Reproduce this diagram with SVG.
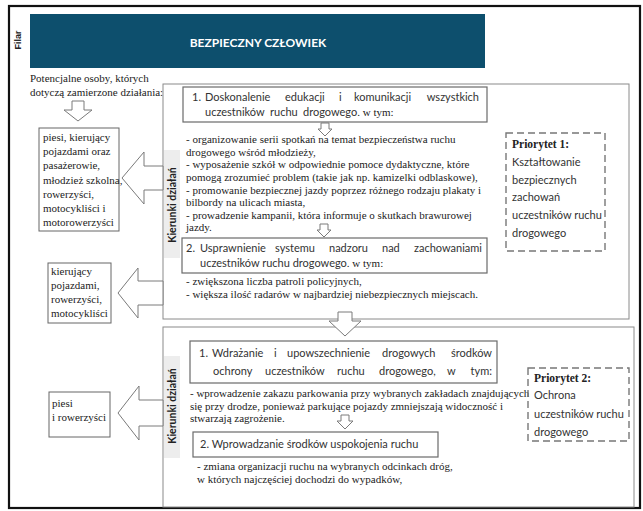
<svg xmlns="http://www.w3.org/2000/svg" width="643" height="511" viewBox="0 0 643 511">
  <style>
    .serif { font-family: "Liberation Serif", "Times New Roman", serif; font-size: 11px; fill: #222; }
    .sans { font-family: Lato, "Open Sans", sans-serif; font-size: 11px; fill: #333; }
    .prio { font-family: Lato, "Open Sans", sans-serif; font-size: 11px; fill: #333; }
    .prioTitle { font-family: "Liberation Serif", serif; font-size: 11.5px; font-weight: bold; fill: #222; }
    .vert { font-family: Lato, "Open Sans", sans-serif; font-size: 10.5px; font-weight: bold; fill: #222; }
    .box { fill: #fff; stroke: #666; stroke-width: 1; }
    .section { fill: #fff; stroke: #8a8a8a; stroke-width: 1; }
    .sub { fill: #fff; stroke: #6a6a6a; stroke-width: 1.2; }
    .dash { fill: none; stroke: #777; stroke-width: 1.4; stroke-dasharray: 7 4; }
    .arrow { fill: #fff; stroke: #7a7a7a; stroke-width: 1; }
    .strip { fill: #ededed; }
  </style>

  <!-- outer frame -->
  <rect x="9" y="6" width="631" height="502" fill="#fff" stroke="#111" stroke-width="2.2"/>

  <!-- pillar label and banner -->
  <g id="pillar">
    <text transform="translate(21,40) rotate(-90)" text-anchor="middle" style="font-family:'Liberation Sans',sans-serif;font-size:9px;font-weight:bold;fill:#222">Filar</text>
    <rect x="30" y="14" width="455" height="54" fill="#0d4f6d"/>
    <text x="258" y="47" text-anchor="middle" style="font-family:Lato,'Open Sans',sans-serif;font-size:12px;font-weight:bold;fill:#fff">BEZPIECZNY CZŁOWIEK</text>
  </g>

  <!-- intro label -->
  <g id="intro">
    <text class="serif" x="30" y="82">Potencjalne osoby, których</text>
    <text class="serif" x="30" y="96">dotyczą zamierzone działania:</text>
  </g>

  <!-- target groups -->
  <g id="groupA">
    <rect class="box" x="39" y="128" width="80" height="103"/>
    <text class="serif" x="43" y="141">piesi, kierujący</text>
    <text class="serif" x="43" y="155">pojazdami oraz</text>
    <text class="serif" x="43" y="169">pasażerowie,</text>
    <text class="serif" x="43" y="184">młodzież szkolna,</text>
    <text class="serif" x="43" y="198">rowerzyści,</text>
    <text class="serif" x="43" y="212">motocykliści i</text>
    <text class="serif" x="43" y="226">motorowerzyści</text>
  </g>
  <g id="groupB">
    <rect class="box" x="48" y="263" width="63" height="60"/>
    <text class="serif" x="51" y="275">kierujący</text>
    <text class="serif" x="51" y="289">pojazdami,</text>
    <text class="serif" x="51" y="303">rowerzyści,</text>
    <text class="serif" x="51" y="317">motocykliści</text>
  </g>
  <g id="groupC">
    <rect class="box" x="49" y="392" width="61" height="45"/>
    <text class="serif" x="52" y="407">piesi</text>
    <text class="serif" x="52" y="421">i rowerzyści</text>
  </g>

  <!-- section 1 -->
  <g id="section1">
    <rect class="section" x="163" y="84" width="466" height="235"/>
    <rect class="strip" x="164" y="150" width="16" height="108"/>
    <text class="vert" transform="translate(176,205) rotate(-90)" text-anchor="middle">Kierunki działań</text>

    <rect class="sub" x="183" y="87" width="304" height="35"/>
    <text class="sans" y="101"><tspan x="192">1.</tspan><tspan x="205">Doskonalenie</tspan><tspan x="285">edukacji</tspan><tspan x="339">i</tspan><tspan x="354">komunikacji</tspan></text>
    <text class="sans" x="479" y="101" text-anchor="end">wszystkich</text>
    <text class="sans" y="116"><tspan x="205">uczestników</tspan><tspan x="270">ruchu</tspan><tspan x="303">drogowego</tspan><tspan class="serif">. w tym:</tspan></text>

    <text class="serif" x="186" y="143">- organizowanie serii spotkań na temat bezpieczeństwa ruchu</text>
    <text class="serif" x="186" y="156">drogowego wśród młodzieży,</text>
    <text class="serif" x="186" y="168">- wyposażenie szkół w odpowiednie pomoce dydaktyczne, które</text>
    <text class="serif" x="186" y="181">pomogą zrozumieć problem (takie jak np. kamizelki odblaskowe),</text>
    <text class="serif" x="186" y="194">- promowanie bezpiecznej jazdy poprzez różnego rodzaju plakaty i</text>
    <text class="serif" x="186" y="206">bilbordy na ulicach miasta,</text>
    <text class="serif" x="186" y="219">- prowadzenie kampanii, która informuje o skutkach brawurowej</text>
    <text class="serif" x="186" y="231">jazdy.</text>

    <rect class="sub" x="182" y="238" width="305" height="35"/>
    <text class="sans" y="252"><tspan x="186">2.</tspan><tspan x="200">Usprawnienie</tspan><tspan x="275">systemu</tspan><tspan x="329">nadzoru</tspan><tspan x="382">nad</tspan></text>
    <text class="sans" x="482" y="252" text-anchor="end">zachowaniami</text>
    <text class="sans" x="200" y="267">uczestników ruchu drogowego<tspan class="serif">. w tym:</tspan></text>

    <text class="serif" x="186" y="285">- zwiększona liczba patroli policyjnych,</text>
    <text class="serif" x="186" y="298">- większa ilość radarów w najbardziej niebezpiecznych miejscach.</text>
  </g>

  <g id="priority1">
    <rect class="dash" x="506" y="133" width="99" height="118"/>
    <text class="prioTitle" x="512" y="148">Priorytet 1:</text>
    <text class="prio" x="512" y="166">Kształtowanie</text>
    <text class="prio" x="512" y="184">bezpiecznych</text>
    <text class="prio" x="512" y="201">zachowań</text>
    <text class="prio" x="512" y="219">uczestników ruchu</text>
    <text class="prio" x="512" y="237">drogowego</text>
  </g>

  <!-- section 2 -->
  <g id="section2">
    <rect class="section" x="163" y="327" width="471" height="180"/>
    <rect class="strip" x="164" y="356" width="16" height="102"/>
    <text class="vert" transform="translate(176,406) rotate(-90)" text-anchor="middle">Kierunki działań</text>

    <rect class="sub" x="190" y="341" width="307" height="42"/>
    <text class="sans" y="357"><tspan x="199">1.</tspan><tspan x="212">Wdrażanie</tspan><tspan x="274">i</tspan><tspan x="287">upowszechnienie</tspan><tspan x="382">drogowych</tspan></text>
    <text class="sans" x="492" y="357" text-anchor="end">środków</text>
    <text class="sans" y="375"><tspan x="213">ochrony</tspan><tspan x="265">uczestników</tspan><tspan x="337">ruchu</tspan><tspan x="379">drogowego,</tspan><tspan x="447">w</tspan></text>
    <text class="sans" x="492" y="375" text-anchor="end">tym:</text>

    <text class="serif" x="190" y="397">- wprowadzenie zakazu parkowania przy wybranych zakładach znajdujących</text>
    <text class="serif" x="190" y="410">się przy drodze, ponieważ parkujące pojazdy zmniejszają widoczność i</text>
    <text class="serif" x="190" y="422">stwarzają zagrożenie.</text>

    <rect class="sub" x="193" y="432" width="245" height="25"/>
    <text class="sans" x="200" y="448">2.  Wprowadzanie środków uspokojenia ruchu</text>

    <text class="serif" x="197" y="470">- zmiana organizacji ruchu na wybranych odcinkach dróg,</text>
    <text class="serif" x="197" y="483">w których najczęściej dochodzi do wypadków,</text>
  </g>

  <g id="priority2">
    <rect class="dash" x="528" y="368" width="101" height="73"/>
    <text class="prioTitle" x="534" y="382">Priorytet 2:</text>
    <text class="prio" x="534" y="399">Ochrona</text>
    <text class="prio" x="534" y="418">uczestników ruchu</text>
    <text class="prio" x="534" y="436">drogowego</text>
  </g>

  <!-- connectors: outlined block arrows -->
  <g id="connectors">
    <path class="arrow" d="M72,101 H84 V110 H92 L78,121 L64,110 H72 Z"/>
    <path class="arrow" d="M122,178 L144,152 V166 H163 V190 H144 V204 Z"/>
    <path class="arrow" d="M118,293 L138,268 V281 H163 V305 H138 V318 Z"/>
    <path class="arrow" d="M118,413 L139,386 V400 H163 V426 H139 V440 Z"/>
    <path class="arrow" d="M321,123 H329 V129 H332 L325,136 L318,129 H321 Z"/>
    <path class="arrow" d="M320,224 H328 V230 H331 L324,237 L317,230 H320 Z"/>
    <path class="arrow" d="M341,415 H349 V421 H353 L345,429 L337,421 H341 Z"/>
    <path class="arrow" d="M338,312 H352 V321 H361 L345,336 L329,321 H338 Z"/>
  </g>
</svg>
